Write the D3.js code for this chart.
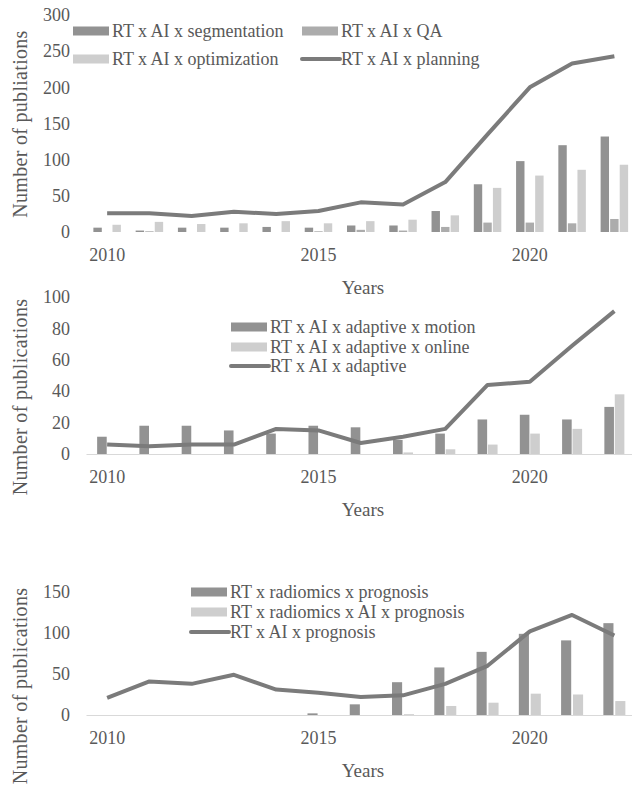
<!DOCTYPE html>
<html>
<head>
<meta charset="utf-8">
<script src="https://cdn.jsdelivr.net/npm/d3@7"></script>
<style>
    body { margin: 0; background: #fff; }
    text { font-family: "Liberation Serif", "DejaVu Serif", serif; fill: #595959; }
</style>
</head>
<body>
<svg id="chart" width="632" height="793"></svg>
<script>
// data
const years = [2010, 2011, 2012, 2013, 2014, 2015, 2016, 2017, 2018, 2019, 2020, 2021, 2022];
const yearTicks = [2010, 2015, 2020];

// panel 1
const segmentation = [6, 2, 6, 6, 7, 6, 9, 9, 29, 66, 98, 120, 132];
const qa = [0, 1, 0, 0, 0, 1, 3, 2, 7, 13, 13, 12, 18];
const optimization = [10, 14, 11, 12, 15, 12, 15, 17, 23, 61, 78, 86, 93];
const planning = [26, 26, 22, 28, 25, 29, 41, 38, 69, 135, 200, 233, 243];

// panel 2
const motion = [11, 18, 18, 15, 13, 18, 17, 9, 13, 22, 25, 22, 30];
const online = [0, 0, 0, 0, 0, 0, 0, 1, 3, 6, 13, 16, 38];
const adaptive = [6, 5, 6, 6, 16, 15, 7, 11, 16, 44, 46, 69, 91];

// panel 3
const radiomicsPrognosis = [0, 0, 0, 0, 0, 2, 13, 40, 58, 77, 99, 91, 112];
const radiomicsAiPrognosis = [0, 0, 0, 0, 0, 0, 0, 1, 11, 15, 26, 25, 17];
const aiPrognosis = [21, 41, 38, 49, 31, 27, 22, 24, 38, 60, 102, 122, 97];

const darkGrey = "#929292";
const midGrey = "#acacac";
const lightGrey = "#cecece";
const lineColor = "#7b7b7b";
const axisColor = "#d9d9d9";

const svg = d3.select("#chart");

const x = d3.scaleBand().domain(years).range([86, 635.5]);

function drawPanel(p) {
    const g = svg.append("g");

    const y = d3.scaleLinear().domain([0, p.yMax]).range([p.bottom, p.top]);

    // y axis labels
    g.append("g")
        .attr("transform", "translate(78,0)")
        .call(d3.axisLeft(y).tickValues(d3.range(0, p.yMax + 1, p.step)).tickSize(0).tickPadding(8))
        .call(a => a.select(".domain").remove())
        .selectAll("text")
        .style("font-family", "Liberation Serif")
        .style("font-size", "18px")
        .attr("fill", "#595959");

    // category axis (the top chart has no visible axis line)
    g.append("g")
        .attr("transform", `translate(0,${p.bottom})`)
        .call(d3.axisBottom(x).tickValues(yearTicks).tickSize(0).tickPadding(16))
        .call(a => a.select(".domain")
            .attr("stroke", p.axisLine ? axisColor : "none")
            .attr("stroke-width", 1.2))
        .selectAll("text")
        .style("font-family", "Liberation Serif")
        .style("font-size", "18px")
        .attr("fill", "#595959");

    // axis titles
    g.append("text")
        .attr("transform", `translate(27,${p.titleY}) rotate(-90)`)
        .attr("text-anchor", "middle")
        .style("font-size", "20px")
        .style("letter-spacing", "0.3px")
        .text(p.yTitle);

    g.append("text")
        .attr("x", 363)
        .attr("y", p.bottom + 62)
        .attr("text-anchor", "middle")
        .style("font-size", "19px")
        .text("Years");

    // bars
    const inner = d3.scaleBand()
        .domain(d3.range(p.bars.length))
        .range([(x.bandwidth() - p.groupWidth) / 2, (x.bandwidth() + p.groupWidth) / 2])
        .paddingInner(p.innerPad);

    p.bars.forEach(function (s, i) {
        g.append("g")
            .selectAll("rect")
            .data(s.values)
            .enter()
            .append("rect")
            .attr("x", (d, j) => x(years[j]) + inner(i))
            .attr("y", d => y(d))
            .attr("width", inner.bandwidth())
            .attr("height", d => p.bottom - y(d))
            .attr("fill", s.color);
    });

    // line
    g.append("path")
        .datum(p.line.values)
        .attr("d", d3.line()
            .x((d, j) => x(years[j]) + x.bandwidth() / 2)
            .y(d => y(d)))
        .attr("fill", "none")
        .attr("stroke", lineColor)
        .attr("stroke-width", 4)
        .attr("stroke-linejoin", "round");

    // legend
    const items = p.bars.map(s => ({ name: s.name, color: s.color, kind: "bar" }))
        .concat([{ name: p.line.name, color: lineColor, kind: "line" }]);

    items.forEach(function (it, i) {
        const pos = p.legend[i];
        const lg = g.append("g").attr("transform", `translate(${pos[0]},${pos[1]})`);
        if (it.kind === "bar") {
            lg.append("rect")
                .attr("x", 0).attr("y", -4.5)
                .attr("width", 36).attr("height", 9)
                .attr("fill", it.color);
        } else {
            lg.append("line")
                .attr("x1", 0).attr("x2", 38)
                .attr("y1", 0).attr("y2", 0)
                .attr("stroke", it.color)
                .attr("stroke-width", 4)
                .attr("stroke-linecap", "round");
        }
        lg.append("text")
            .attr("x", 39)
            .attr("y", 6)
            .style("font-size", "18px")
            .text(it.name);
    });
}

drawPanel({
    top: 15, bottom: 232, yMax: 300, step: 50, axisLine: false,
    yTitle: "Number of publiations", titleY: 124,
    groupWidth: 27.5, innerPad: 0.12,
    bars: [
        { name: "RT x AI x segmentation", values: segmentation, color: darkGrey },
        { name: "RT x AI x QA", values: qa, color: midGrey },
        { name: "RT x AI x optimization", values: optimization, color: lightGrey }
    ],
    line: { name: "RT x AI x planning", values: planning },
    legend: [[73, 31], [302, 31], [73, 59], [302, 59]]
});

drawPanel({
    top: 297, bottom: 454, yMax: 100, step: 20, axisLine: true,
    yTitle: "Number of publications", titleY: 397,
    groupWidth: 20, innerPad: 0.08,
    bars: [
        { name: "RT x AI x adaptive x motion", values: motion, color: darkGrey },
        { name: "RT x AI x adaptive x online", values: online, color: lightGrey }
    ],
    line: { name: "RT x AI x adaptive", values: adaptive },
    legend: [[231, 327], [231, 347], [231, 366]]
});

drawPanel({
    top: 592, bottom: 715, yMax: 150, step: 50, axisLine: true,
    yTitle: "Number of publications", titleY: 686,
    groupWidth: 22, innerPad: 0.15,
    bars: [
        { name: "RT x radiomics x prognosis", values: radiomicsPrognosis, color: darkGrey },
        { name: "RT x radiomics x AI x prognosis", values: radiomicsAiPrognosis, color: lightGrey }
    ],
    line: { name: "RT x AI x prognosis", values: aiPrognosis },
    legend: [[191, 592], [191, 612], [191, 632]]
});
</script>
</body>
</html>
